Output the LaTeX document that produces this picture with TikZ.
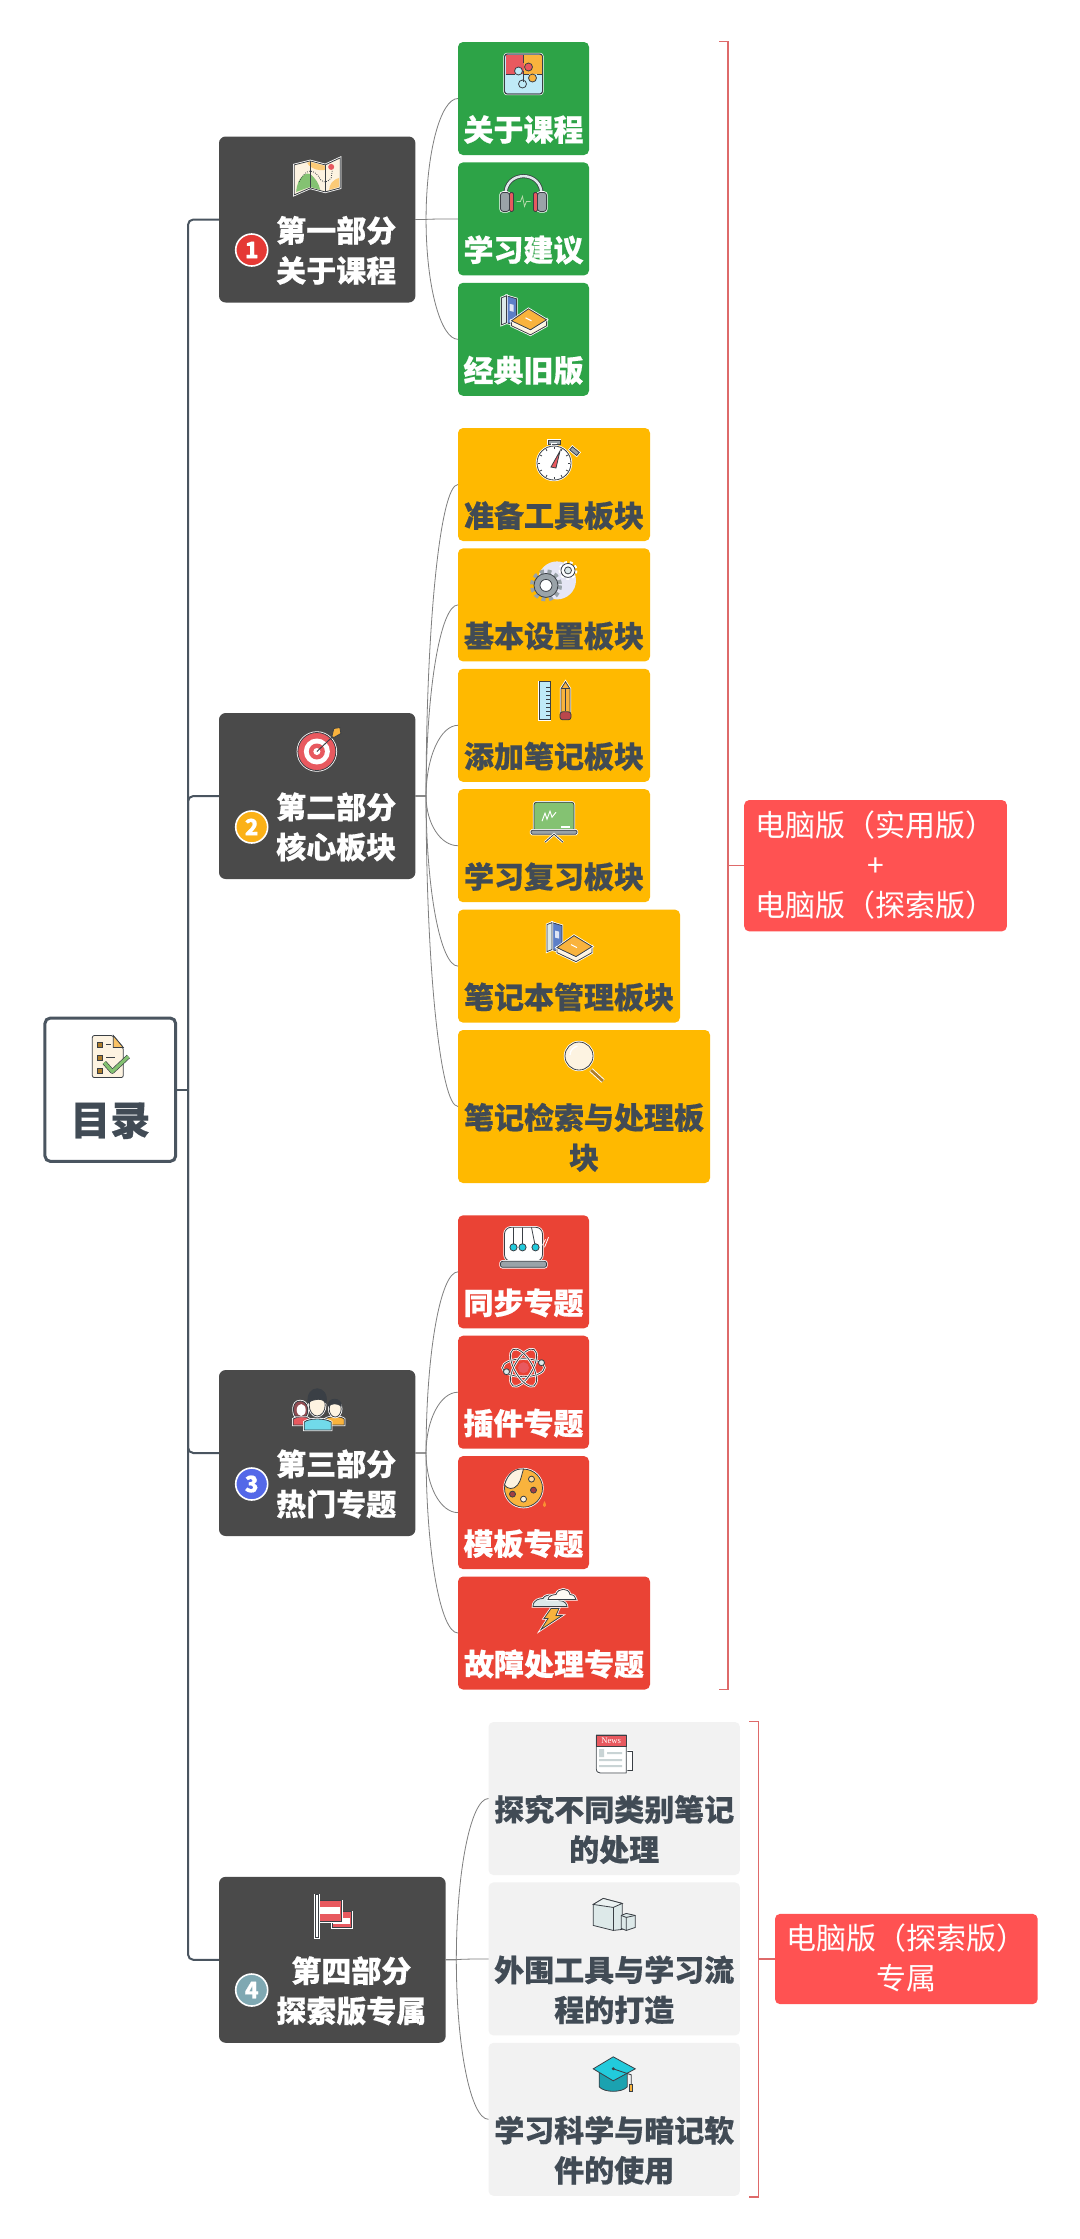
\documentclass[tikz,border=0pt]{standalone}
\usepackage{fontspec}
\usepackage{xcolor}
\usepackage{tikz}
\setmainfont[BoldFeatures={FakeBold=0.5}]{Noto Sans CJK SC}
\newfontfamily\newsfont{Liberation Serif}
\usetikzlibrary{
  positioning,
  calc
}
\definecolor{mmInk}{HTML}{414B55}
\definecolor{mmDark}{HTML}{4A4A4A}
\definecolor{mmTrunk}{HTML}{4A5560}
\definecolor{mmTwig}{HTML}{7F7F7F}
\definecolor{mmGreen}{HTML}{2DA347}
\definecolor{mmYellow}{HTML}{FFB900}
\definecolor{mmRed}{HTML}{EA4335}
\definecolor{mmGray}{HTML}{F2F2F2}
\definecolor{mmNote}{HTML}{FF5252}
\definecolor{mmBracket}{HTML}{DE6A6A}
\definecolor{badgeOne}{HTML}{E53935}
\definecolor{badgeTwo}{HTML}{FBB117}
\definecolor{badgeThree}{HTML}{5468E8}
\definecolor{badgeFour}{HTML}{7FA8B2}
\definecolor{icInk}{HTML}{3A3F45}
\definecolor{icRed}{HTML}{E8595F}
\definecolor{icOrange}{HTML}{F9B33D}
\definecolor{icSky}{HTML}{BFEAF7}
\definecolor{icCream}{HTML}{FDF3E1}
\definecolor{icLeaf}{HTML}{84C272}
\definecolor{icSlate}{HTML}{9AA3A8}
\definecolor{icBlue}{HTML}{5C7FC7}
\definecolor{icCyan}{HTML}{22CBDC}
\definecolor{icMist}{HTML}{DDE9E9}
\definecolor{icLav}{HTML}{E6E6F5}
\tikzset{
  rootnode/.style={
    draw=mmTrunk, line width=2.25pt, fill=white, rounded corners=4pt, inner sep=0pt,
    minimum width=98pt, minimum height=107.5pt, align=center, text=mmInk,
    font=\fontsize{30}{30}\selectfont\bfseries
  },
  partnode/.style={
    fill=mmDark, rounded corners=5pt, inner sep=0pt, outer sep=0pt, minimum width=147.3pt,
    minimum height=124.5pt, align=center, text=white, anchor=west,
    font=\fontsize{22.5}{30}\selectfont\bfseries
  },
  leafnode/.style={
    rounded corners=3.75pt, inner sep=0pt, outer sep=0pt, minimum height=84.75pt, align=center,
    font=\fontsize{22.5}{30}\selectfont\bfseries
  },
  course/.style={leafnode, fill=mmGreen, text=white, minimum width=98.25pt},
  modulebox/.style={leafnode, fill=mmYellow, text=mmInk, minimum width=144pt},
  topicbox/.style={leafnode, fill=mmRed, text=white, minimum width=98.25pt},
  extrabox/.style={leafnode, fill=mmGray, text=mmInk, minimum width=188.6pt, minimum height=114.75pt},
  notebox/.style={
    fill=mmNote, rounded corners=3.75pt, inner sep=0pt, outer sep=0pt, minimum width=197pt, align=center,
    text=white, font=\fontsize{22.5}{30}\selectfont
  },
  badge/.style={
    circle, draw=white, line width=1.2pt, inner sep=0pt, minimum size=24pt, text=white,
    font=\fontsize{17}{17}\selectfont\bfseries
  },
  trunkline/.style={draw=mmTrunk, line width=1.5pt, rounded corners=4pt},
  bracket/.style={draw=mmBracket, line width=1.1pt},
  twig/.style={
    draw=mmTwig, line width=.6pt,
    to path={-- ++(8pt,0) coordinate (bend)
      .. controls ($(bend)!.55!(bend |- \tikztotarget)$) and ($(\tikztotarget)!.55!(bend |- \tikztotarget)$) .. (\tikztotarget)}
  },
  ink/.style={draw=icInk, line width=.6pt},
  icon/.style={ink, preaction={draw=white, line width=1.8pt}}
}
% one row of icon space, one row of text
\newcommand{\iconrow}{\rule[-8pt]{0pt}{47pt}}
\newcommand{\lineup}{\rule[-7.2pt]{0pt}{30pt}}
\newcommand{\rootline}{\rule[-5pt]{0pt}{30pt}}
\newcommand{\partline}{\lineup\hspace*{28.5pt}}
\newcommand{\iconat}[3]{\begin{scope}[shift={($(#1.north)+(0,#2)$)}]#3\end{scope}}

% icons, drawn round (0,0) with y going down
\newcommand{\iconpuzzle}{
  \path[icon, fill=icSky, rounded corners=2pt] (-19,-20) rectangle (19,20);
  \fill[icRed] (-18,-19) rectangle (0,0);
  \fill[icOrange] (0,-19) rectangle (18,0);
  \fill[icSky] (-5,-3) circle (4);
  \fill[icRed] (5,-7) circle (4);
  \fill[icOrange] (9,4) circle (4);
  \draw[ink] (0,-19) -- (0,-11) (0,-3) -- (0,8) (-18,0) -- (-9,0) (-1,0) -- (5,0) (13,0) -- (18,0);
  \draw[ink] (-5,-3) circle (4) (5,-7) circle (4) (9,4) circle (4) (-1,10) circle (4);
  \draw[ink, rounded corners=2pt] (-19,-20) rectangle (19,20);
}
\newcommand{\iconmap}{
  \path[icon, fill=icCream] (-23,-11) -- (-7,-15) -- (8,-11) -- (23,-18) -- (23,12) -- (8,16) -- (-7,12) -- (-23,19) -- cycle;
  \fill[icLeaf] (-21,16) .. controls (-20,0) and (-10,-4) .. (-7,-2) .. controls (-2,2) and (2,8) .. (3,14) -- (-7,11) -- cycle;
  \fill[icOrange!70] (-10,-13) -- (-7,-14) -- (8,-10) -- (8,-6) .. controls (3,-5) and (-6,-6) .. (-10,-13);
  \fill[icOrange!70] (22,2) .. controls (15,4) and (12,9) .. (12,14) -- (22,11) -- cycle;
  \draw[icInk, line width=.6pt, densely dotted] (-18,6) .. controls (-12,-6) and (-6,-8) .. (1,0) .. controls (4,6) and (8,9) .. (14,2) -- (15,-5);
  \fill[icRed] (14,-9) circle (3);
  \draw[ink] (-7,-15) -- (-7,12) (8,-11) -- (8,16);
}
\newcommand{\iconphones}{
  \draw[ink, double=icMist, double distance=1.8pt] (-18,2) .. controls (-20,-25) and (20,-25) .. (18,2);
  \path[icon, fill=icSlate, rounded corners=2pt] (-23,-2) rectangle (-14,17);
  \path[icon, fill=icSlate, rounded corners=2pt] (14,-2) rectangle (23,17);
  \path[ink, fill=icRed, rounded corners=1pt] (-14,-2) rectangle (-10,17);
  \path[ink, fill=icRed, rounded corners=1pt] (10,-2) rectangle (14,17);
  \draw[icLeaf!60!white, line width=.6pt] (-7,7) -- (-3,7) -- (-1,2) -- (1,12) -- (3,7) -- (7,7);
}
\newcommand{\iconbooks}{
  \path[icon, fill=icBlue] (-17,-19) -- (-7,-16) -- (-7,7) -- (-9,10) -- (-17,8) -- cycle;
  \path[icon, fill=icMist] (-22,-17) -- (-17,-19) -- (-17,8) -- (-22,10) -- cycle;
  \fill[white!80!icBlue] (-14,-11) -- (-10,-10) -- (-10,-3) -- (-14,-4) -- cycle;
  \path[icon, fill=icCream] (-12,6) -- (-12,11) -- (7,20) -- (23,11) -- (23,5) -- (7,15) -- cycle;
  \path[icon, fill=icOrange] (-12,6) -- (5,-6) -- (23,5) -- (7,15) -- cycle;
  \draw[white, line width=.8pt] (2,3) -- (8,6);
}
\newcommand{\icontarget}{
  \path[icon, fill=icRed] (-3,3) circle (19);
  \fill[white] (-3,3) circle (13);
  \fill[icRed] (-3,3) circle (8);
  \fill[white] (-3,3) circle (3.5);
  \draw[icInk, line width=.7pt] (-3,3) -- (14,-13);
  \path[ink, fill=icOrange] (12,-12) -- (14,-20) -- (20,-21) -- (21,-15) -- (14,-11) -- cycle;
}
\newcommand{\iconwatch}{
  \path[icon, fill=icSlate] (-6,-20) rectangle (6,-16);
  \path[icon, fill=icSlate] (-2,-16) rectangle (2,-13);
  \path[icon, fill=icSlate, rotate=-40] (5.5,-22) rectangle (14.5,-18);
  \path[icon, fill=white] (0,3) circle (17);
  \foreach \a in {0,30,...,330} \draw[ink] ($(0,3)+(\a:14)$) -- ($(0,3)+(\a:16)$);
  \path[ink, fill=icRed] (-3,7) -- (2,8) -- (6,-9) -- cycle;
}
\newcommand{\icongears}{
  \fill[icLav] (3,0) circle (19);
  \draw[icSlate, line width=3pt, dash pattern=on 3pt off 2.6pt] (-8,5) circle (14);
  \path[ink, fill=icSlate] (-8,5) circle (12);
  \path[ink, fill=white] (-8,5) circle (6);
  \draw[white, line width=2.2pt, dash pattern=on 2.2pt off 2pt] (14,-10) circle (8);
  \path[ink, fill=white] (14,-10) circle (7);
  \path[ink, fill=icMist] (14,-10) circle (3.5);
}
\newcommand{\iconruler}{
  \path[icon, fill=icSky] (-15,-19) rectangle (-4,19);
  \foreach \y in {-13,-9,...,15} \draw[ink] (-4,\y) -- (-8,\y);
  \path[icon, fill=icOrange] (7,-12) -- (11.5,-19) -- (16,-12) -- (16,12) -- (7,12) -- cycle;
  \path[ink, fill=icRed!80!black, rounded corners=2pt] (6,11) rectangle (17,19);
  \draw[ink] (7,-12) -- (16,-12) (11.5,-12) -- (11.5,10);
}
\newcommand{\iconboard}{
  \path[icon, fill=icLeaf, rounded corners=2pt] (-20,-19) rectangle (20,10);
  \draw[white, line width=.7pt] (-12,0) -- (-9,-8) -- (-7,-2) -- (-4,-10) -- (-2,-4) -- (2,-9);
  \draw[white, line width=1.2pt] (7,6) -- (16,6);
  \path[icon, fill=icSlate, rounded corners=1pt] (-23,9) rectangle (23,13);
  \draw[icon] (-9,21) -- (0,13) -- (9,21);
}
\newcommand{\iconglass}{
  \draw[icon, line width=2pt, preaction={draw=white, line width=3.4pt}, draw=icOrange!70!black] (7,8) -- (19,19);
  \path[icon, fill=icCream] (-5,-6) circle (14);
  \draw[white, line width=1pt] (-14,-7) arc (180:260:9);
}
\newcommand{\iconcheck}{
  \path[ink, fill=icCream, rounded corners=1.5pt] (-18,-21) -- (3,-21) -- (13,-9) -- (13,21) -- (-18,21) -- cycle;
  \path[ink, fill=icOrange!80] (3,-21) -- (13,-9) -- (3,-9) -- cycle;
  \foreach \y in {-12,1,14} \path[ink, fill=icOrange!70!black] (-13,\y-2) rectangle (-8,\y+3);
  \draw[ink] (-4,-12) -- (1,-12) (-4,1) -- (5,1);
  \draw[icInk, line width=.5pt, double=icLeaf, double distance=2.4pt, line join=round] (-6,6) -- (2,15) -- (18,0);
}
\newcommand{\iconpeople}{
  \path[icon, fill=icRed] (-24,15) -- (-24,9) .. controls (-20,6) and (-10,6) .. (-8,9) -- (-8,15) -- cycle;
  \path[icon, fill=icRed!50!icInk] (-17,-9) .. controls (-26,-9) and (-24,4) .. (-22,6) -- (-11,6) .. controls (-8,2) and (-9,-9) .. (-17,-9);
  \path[fill=white] (-16,0) ellipse (4.5 and 6);
  \path[icon, fill=icOrange] (8,15) -- (8,9) .. controls (12,6) and (24,6) .. (27,9) -- (27,15) -- cycle;
  \path[icon, fill=icCream] (18,-1) ellipse (6 and 8);
  \path[ink, fill=icInk] (11,-4) .. controls (10,-13) and (25,-13) .. (24,-4) .. controls (20,-7) and (15,-7) .. (11,-4);
  \path[icon, fill=icCyan!50!icSky] (-13,20) -- (-13,12) .. controls (-8,8) and (8,8) .. (14,12) -- (14,20) -- cycle;
  \path[icon, fill=icCream] (0,-5) ellipse (8 and 11);
  \path[ink, fill=icInk] (-9,-7) .. controls (-12,-26) and (12,-26) .. (9,-7) .. controls (6,-12) and (-4,-12) .. (-9,-7);
}
\newcommand{\iconcradle}{
  \path[icon, fill=white, rounded corners=5pt] (-19,14) -- (-19,-20) -- (19,-20) -- (19,14) -- cycle;
  \path[icon, fill=icSlate, rounded corners=1.5pt] (-23,14) rectangle (23,20);
  \draw[ink] (-10,-20) -- (-10,0) (-1,-20) -- (-1,0) (8,-20) -- (12,0);
  \foreach \x in {-10,-1,12} \path[ink, fill=icCyan] (\x,0) circle (3.6);
  \draw[white, line width=.6pt] (22,-8) -- (19,-2) (25,-10) -- (21,0);
}
\newcommand{\iconatom}{
  \foreach \a in {0,60,120}
    \draw[icon, rotate=\a] (0,0) ellipse (21 and 9);
  \path[fill=icRed] (0,0) circle (5.5);
  \path[ink, fill=icMist] (18,-5) circle (3);
  \path[ink, fill=icMist] (-17,4) circle (3);
}
\newcommand{\iconpalette}{
  \path[icon, fill=icOrange] (0,0) circle (19);
  \path[ink, fill=icCream] (-19,-3) .. controls (-16,-15) and (-8,-20) .. (0,-19) .. controls (-2,-14) and (-2,-8) .. (-6,-3) .. controls (-10,2) and (-16,1) .. (-19,-3);
  \path[ink, fill=icOrange!50!white] (8,-9) circle (3);
  \path[ink, fill=icRed!70!black] (10,2) circle (3);
  \path[ink, fill=icCream] (0,11) circle (3);
  \path[ink, fill=icRed!70!black] (-11,6) circle (3);
  \fill[icOrange!80!red] (21,13) .. controls (16,21) and (26,21) .. (21,13);
}
\newcommand{\iconstorm}{
  \path[icon, fill=icMist] (-21,-2) .. controls (-21,-9) and (-14,-10) .. (-11,-10) .. controls (-9,-15) and (3,-15) .. (5,-8) .. controls (11,-8) and (13,-4) .. (13,-2) -- cycle;
  \path[icon, fill=icCream!40!white] (-6,-9) .. controls (-6,-13) and (0,-14) .. (2,-14) .. controls (4,-21) and (15,-21) .. (16,-14) .. controls (20,-14) and (22,-11) .. (22,-9) -- cycle;
  \path[icon, fill=icOrange] (-3,0) -- (5,0) -- (2,7) -- (8,7) -- (-13,21) -- (-6,10) -- (-10,10) -- cycle;
}
\newcommand{\iconpaper}{
  \path[icon, fill=white] (12,-3) rectangle (18,16);
  \path[icon, fill=white] (-18,-19) -- (12,-19) -- (12,19) -- (-14,19) .. controls (-17,19) and (-18,17) .. (-18,15) -- cycle;
  \path[ink, fill=icRed] (-18,-19) rectangle (12,-8);
  \node[inner sep=0pt, text=white, font=\newsfont\fontsize{6.5}{6.5}\selectfont] (newsmark) at (-3,-13.5) {News};
  \fill[icMist!70!icSlate] (-15,-5) rectangle (-10,3) (-7,-2) rectangle (8,0) (-15,5) rectangle (8,7) (-15,11) rectangle (8,13);
}
\newcommand{\iconblock}{
  \path[ink, fill=icMist] (-21,-10) -- (-11,-16) -- (8,-11) -- (8,15) -- (-1,16) -- (-21,11) -- cycle;
  \path[ink, fill=white!40!icMist] (-21,-10) -- (-11,-16) -- (8,-11) -- (-1,-7) -- cycle;
  \draw[ink] (-1,-7) -- (-1,16);
  \path[ink, fill=icMist] (7,1) -- (12,-1) -- (21,1) -- (21,13) -- (12,16) -- (7,14) -- cycle;
  \draw[ink] (7,1) -- (12,3) -- (21,1) (12,3) -- (12,16);
}
\newcommand{\iconcap}{
  \path[ink, fill=icCyan!80!black] (-15,-2) -- (-15,12) .. controls (-10,18) and (8,18) .. (13,12) -- (13,-2) -- cycle;
  \path[ink, fill=icCyan] (-21,-6) -- (-1,-18) -- (21,-6) -- (-1,6) -- cycle;
  \fill[icInk] (-1,-6) circle (1.6);
  \draw[ink] (-1,-6) -- (17,0) -- (17,10);
  \path[ink, fill=icOrange] (15.5,10) rectangle (18.5,17);
}
\newcommand{\iconflag}{
  \path[icon, fill=icRed] (0,-4) rectangle (19,12);
  \fill[white] (1,2) rectangle (18,8);
  \path[icon, fill=icRed] (-13,-15) rectangle (9,6);
  \fill[white] (-12,-9) rectangle (8,-2);
  \path[icon, fill=white] (-17,-21) rectangle (-14,22);
}

\begin{document}
\begin{tikzpicture}[x=0.75pt, y=-0.75pt, node distance=5.55pt]
  \path[use as bounding box, fill=white] (0,0) rectangle (1080,2239);

  \node[rootnode] (root) at (110.3,1089.7) {\iconrow\\\rootline 目录};
  \coordinate (trunk) at (188,1089.7);

  \node[partnode] (d1) at (219,219.5) {\iconrow\\\partline 第一部分\\\partline 关于课程};
  \node[partnode] (d2) at (219,796) {\iconrow\\\partline 第二部分\\\partline 核心板块};
  \node[partnode] (d3) at (219,1453) {\iconrow\\\partline 第三部分\\\partline 热门专题};
  \node[partnode, minimum width=170pt] (d4) at (219,1959.8) {\iconrow\\\partline 第四部分\\\partline 探索版专属};
  \node[badge, fill=badgeOne] (n1) at (251.7,250) {1};
  \node[badge, fill=badgeTwo] (n2) at (251.7,827) {2};
  \node[badge, fill=badgeThree] (n3) at (251.7,1484) {3};
  \node[badge, fill=badgeFour] (n4) at (251.7,1990) {4};

  \node[course, anchor=north west] (c1) at (458,42) {\iconrow\\\lineup 关于课程};
  \node[course, below=of c1.south west, anchor=north west] (c2) {\iconrow\\\lineup 学习建议};
  \node[course, below=of c2.south west, anchor=north west] (c3) {\iconrow\\\lineup 经典旧版};

  \node[modulebox, anchor=north west] (m1) at (458,428) {\iconrow\\\lineup 准备工具板块};
  \node[modulebox, below=of m1.south west, anchor=north west] (m2) {\iconrow\\\lineup 基本设置板块};
  \node[modulebox, below=of m2.south west, anchor=north west] (m3) {\iconrow\\\lineup 添加笔记板块};
  \node[modulebox, below=of m3.south west, anchor=north west] (m4) {\iconrow\\\lineup 学习复习板块};
  \node[modulebox, minimum width=166.5pt, below=of m4.south west, anchor=north west] (m5) {\iconrow\\\lineup 笔记本管理板块};
  \node[modulebox, minimum width=189pt, minimum height=114.75pt, below=of m5.south west, anchor=north west] (m6) {\iconrow\\\lineup 笔记检索与处理板\\\lineup 块};

  \node[topicbox, anchor=north west] (t1) at (458,1215.3) {\iconrow\\\lineup 同步专题};
  \node[topicbox, below=of t1.south west, anchor=north west] (t2) {\iconrow\\\lineup 插件专题};
  \node[topicbox, below=of t2.south west, anchor=north west] (t3) {\iconrow\\\lineup 模板专题};
  \node[topicbox, minimum width=144pt, below=of t3.south west, anchor=north west] (t4) {\iconrow\\\lineup 故障处理专题};

  \node[extrabox, anchor=north west] (x1) at (488.5,1722) {\iconrow\\\lineup 探究不同类别笔记\\\lineup 的处理};
  \node[extrabox, below=of x1.south west, anchor=north west] (x2) {\iconrow\\\lineup 外围工具与学习流\\\lineup 程的打造};
  \node[extrabox, below=of x2.south west, anchor=north west] (x3) {\iconrow\\\lineup 学习科学与暗记软\\\lineup 件的使用};

  \node[notebox, minimum height=98.5pt, anchor=west] (note1) at (744.2,865.7) {\lineup 电脑版（实用版）\\\lineup +\\\lineup 电脑版（探索版）};
  \node[notebox, minimum height=67.7pt, anchor=west] (note2) at (775,1959) {\lineup 电脑版（探索版）\\\lineup 专属};

  \draw[trunkline] (root.east) -- (trunk);
  \draw[trunkline] (trunk) |- (d1.west);
  \draw[trunkline] (trunk) |- (d2.west);
  \draw[trunkline] (trunk) |- (d3.west);
  \draw[trunkline] (trunk) |- (d4.west);

  \draw[twig] (d1.east) to (c1.west);
  \draw[twig] (d1.east) to (c2.west);
  \draw[twig] (d1.east) to (c3.west);
  \draw[twig] (d2.east) to (m1.west);
  \draw[twig] (d2.east) to (m2.west);
  \draw[twig] (d2.east) to (m3.west);
  \draw[twig] (d2.east) to (m4.west);
  \draw[twig] (d2.east) to (m5.west);
  \draw[twig] (d2.east) to (m6.west);
  \draw[twig] (d3.east) to (t1.west);
  \draw[twig] (d3.east) to (t2.west);
  \draw[twig] (d3.east) to (t3.west);
  \draw[twig] (d3.east) to (t4.west);
  \draw[twig] (d4.east) to (x1.west);
  \draw[twig] (d4.east) to (x2.west);
  \draw[twig] (d4.east) to (x3.west);

  % brackets
  \coordinate (pcA) at (719,41.5);
  \coordinate (pcB) at (719,1689.5);
  \coordinate (exA) at (749,1721.5);
  \coordinate (exB) at (749,2197);
  \draw[bracket] (pcA) -- ++(9,0) |- (pcB);
  \draw[bracket] (note1.west) -- ++(-16.5,0);
  \draw[bracket] (exA) -- ++(9.7,0) |- (exB);
  \draw[bracket] (note2.west) -- ++(-16.5,0);

  % icons
  \iconat{root}{40}{\iconcheck}
  \iconat{d1}{39.4}{\iconmap}
  \iconat{d2}{35.5}{\begin{scope}[xshift=2pt]\icontarget\end{scope}}
  \iconat{d3}{40}{\iconpeople}
  \iconat{d4}{39}{\iconflag}
  \iconat{c1}{32}{\iconpuzzle}
  \iconat{c2}{32}{\iconphones}
  \iconat{c3}{32}{\iconbooks}
  \iconat{m1}{32}{\iconwatch}
  \iconat{m2}{32}{\icongears}
  \iconat{m3}{32}{\iconruler}
  \iconat{m4}{32}{\iconboard}
  \iconat{m5}{32}{\iconbooks}
  \iconat{m6}{32}{\iconglass}
  \iconat{t1}{32}{\iconcradle}
  \iconat{t2}{32}{\iconatom}
  \iconat{t3}{32}{\iconpalette}
  \iconat{t4}{32}{\iconstorm}
  \iconat{x1}{32}{\iconpaper}
  \iconat{x2}{32}{\iconblock}
  \iconat{x3}{32}{\iconcap}
\end{tikzpicture}
\end{document}
